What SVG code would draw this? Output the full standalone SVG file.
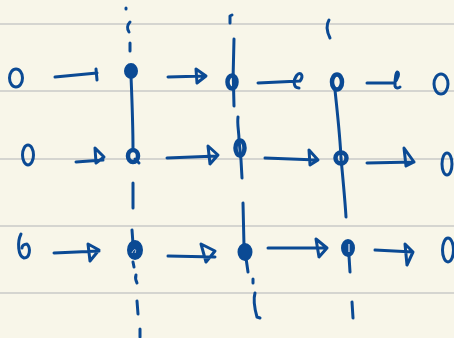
<svg xmlns="http://www.w3.org/2000/svg" width="454" height="338" viewBox="0 0 454 338">
<style>
.ink{fill:none;stroke:#0b4a94;stroke-width:3;stroke-linecap:round;stroke-linejoin:round}
.dot{fill:#0b4a94;stroke:#0b4a94;stroke-width:2}
.ring{fill:none;stroke:#0b4a94;stroke-width:4.5}
.rule{stroke:#d5d5d0;stroke-width:2}
</style>
<rect width="454" height="338" fill="#f8f6e9"/>
<g id="paper-lines">
<line class="rule" x1="0" y1="24" x2="454" y2="24"/>
<line class="rule" x1="0" y1="91" x2="454" y2="91"/>
<line class="rule" x1="0" y1="159" x2="454" y2="159"/>
<line class="rule" x1="0" y1="226" x2="454" y2="226"/>
<line class="rule" x1="0" y1="293" x2="454" y2="293"/>
</g>
<g id="connectors">
<path class="ink" d="M126,8 L126,9"/>
<path class="ink" d="M130,22 C127,25 127,29 129,32"/>
<path class="ink" d="M130,43 L130,51"/>
<path class="ink" d="M131,76 C132,100 133,125 133,150"/>
<path class="ink" d="M133,183 L133,208"/>
<path class="ink" d="M132,230 L133,244"/>
<path class="ink" d="M133,262 L134,267"/>
<path class="ink" d="M136,275 C135,278 136,281 137,283"/>
<path class="ink" d="M137,301 L138,314"/>
<path class="ink" d="M140,329 L140,337"/>

<path class="ink" d="M230,23 L230,16 L232,15"/>
<path class="ink" d="M234,39 C233,60 233,85 234,106"/>
<path class="ink" d="M238,117 C237,125 239,131 239,140 L241,160 L242,178"/>
<path class="ink" d="M243,203 L244,246"/>
<path class="ink" d="M246,258 L248,272"/>
<path class="ink" d="M253,279 L253,283"/>
<path class="ink" d="M255,293 C253,300 255,310 257,317 L260,318"/>

<path class="ink" d="M329,20 C326,25 327,32 330,38"/>
<path class="ink" d="M335,90 C337,110 340,135 341,158 C343,180 345,200 346,217"/>
<path class="ink" d="M349,256 L350,272"/>
<path class="ink" d="M352,302 L353,318"/>

<path class="ink" d="M55,77 L97,73 M96,69 L97,80"/>
<path class="ink" d="M168,77 L204,76 M196,69 L206,76 L197,83 Z"/>
<path class="ink" d="M258,83 L300,81 C304,76 301,71 297,75 C293,80 293,88 299,88"/>
<path class="ink" d="M367,83 L394,83 C398,79 400,73 397,72 C395,73 395,80 395,86 C396,89 399,88 400,87"/>
<path class="ink" d="M76,162 L103,160 M95,148 L104,157 L96,163 Z"/>
<path class="ink" d="M167,158 L217,156 M208,146 L218,155 L210,164 Z"/>
<path class="ink" d="M265,158 L317,160 M309,150 L318,160 L310,165 Z"/>
<path class="ink" d="M367,163 L414,162 M404,148 L414,162 L406,166 Z"/>
<path class="ink" d="M54,253 L99,251 M88,244 L99,250 L90,261 Z"/>
<path class="ink" d="M168,256 L215,257 M201,244 L215,251 L206,262 Z"/>
<path class="ink" d="M268,248 L327,248 M316,239 L327,248 L319,257 Z"/>
<path class="ink" d="M375,250 L413,252 M405,244 L413,252 L407,265 Z"/>
</g>

<g id="n-r1-in"><ellipse class="ink" cx="16" cy="78" rx="6.5" ry="9"/></g>
<g id="n-r1-c1"><ellipse class="dot" cx="131" cy="71" rx="6" ry="7"/></g>
<g id="n-r1-c2"><ellipse class="ring" cx="232" cy="82" rx="4.5" ry="6.5"/></g>
<g id="n-r1-c3"><ellipse class="ring" cx="337" cy="82" rx="5" ry="7.5"/></g>
<g id="n-r1-out"><ellipse class="ink" cx="441" cy="84" rx="7" ry="10"/></g>

<g id="n-r2-in"><ellipse class="ink" cx="28" cy="155" rx="5.5" ry="10"/></g>
<g id="n-r2-c1"><ellipse class="ring" cx="133" cy="156" rx="5" ry="6"/><path class="ink" d="M135,159 L139,163"/></g>
<g id="n-r2-c2"><ellipse class="ring" cx="240" cy="148" rx="4.5" ry="7.5"/></g>
<g id="n-r2-c3"><ellipse class="ring" cx="341" cy="158" rx="5.5" ry="5.5"/></g>
<g id="n-r2-out"><ellipse class="ink" cx="447" cy="164" rx="5" ry="11"/></g>

<g id="n-r3-in"><path class="ink" d="M21,234 C17,242 18,256 24,258 C30,258 31,248 27,244 C24,244 22,246 22,248"/></g>
<g id="n-r3-c1"><ellipse class="dot" cx="135" cy="250" rx="7" ry="9"/><path d="M132,253 C134,248 137,249 135,253" fill="none" stroke="#c8d2e0" stroke-width="1"/></g>
<g id="n-r3-c2"><ellipse class="dot" cx="245" cy="252" rx="6.5" ry="8"/></g>
<g id="n-r3-c3"><ellipse class="dot" cx="348" cy="248" rx="6" ry="8"/><line x1="349" y1="244" x2="349" y2="252" stroke="#e6eaf2" stroke-width="1.2"/></g>
<g id="n-r3-out"><ellipse class="ink" cx="448" cy="250" rx="5.5" ry="12"/></g>
</svg>
